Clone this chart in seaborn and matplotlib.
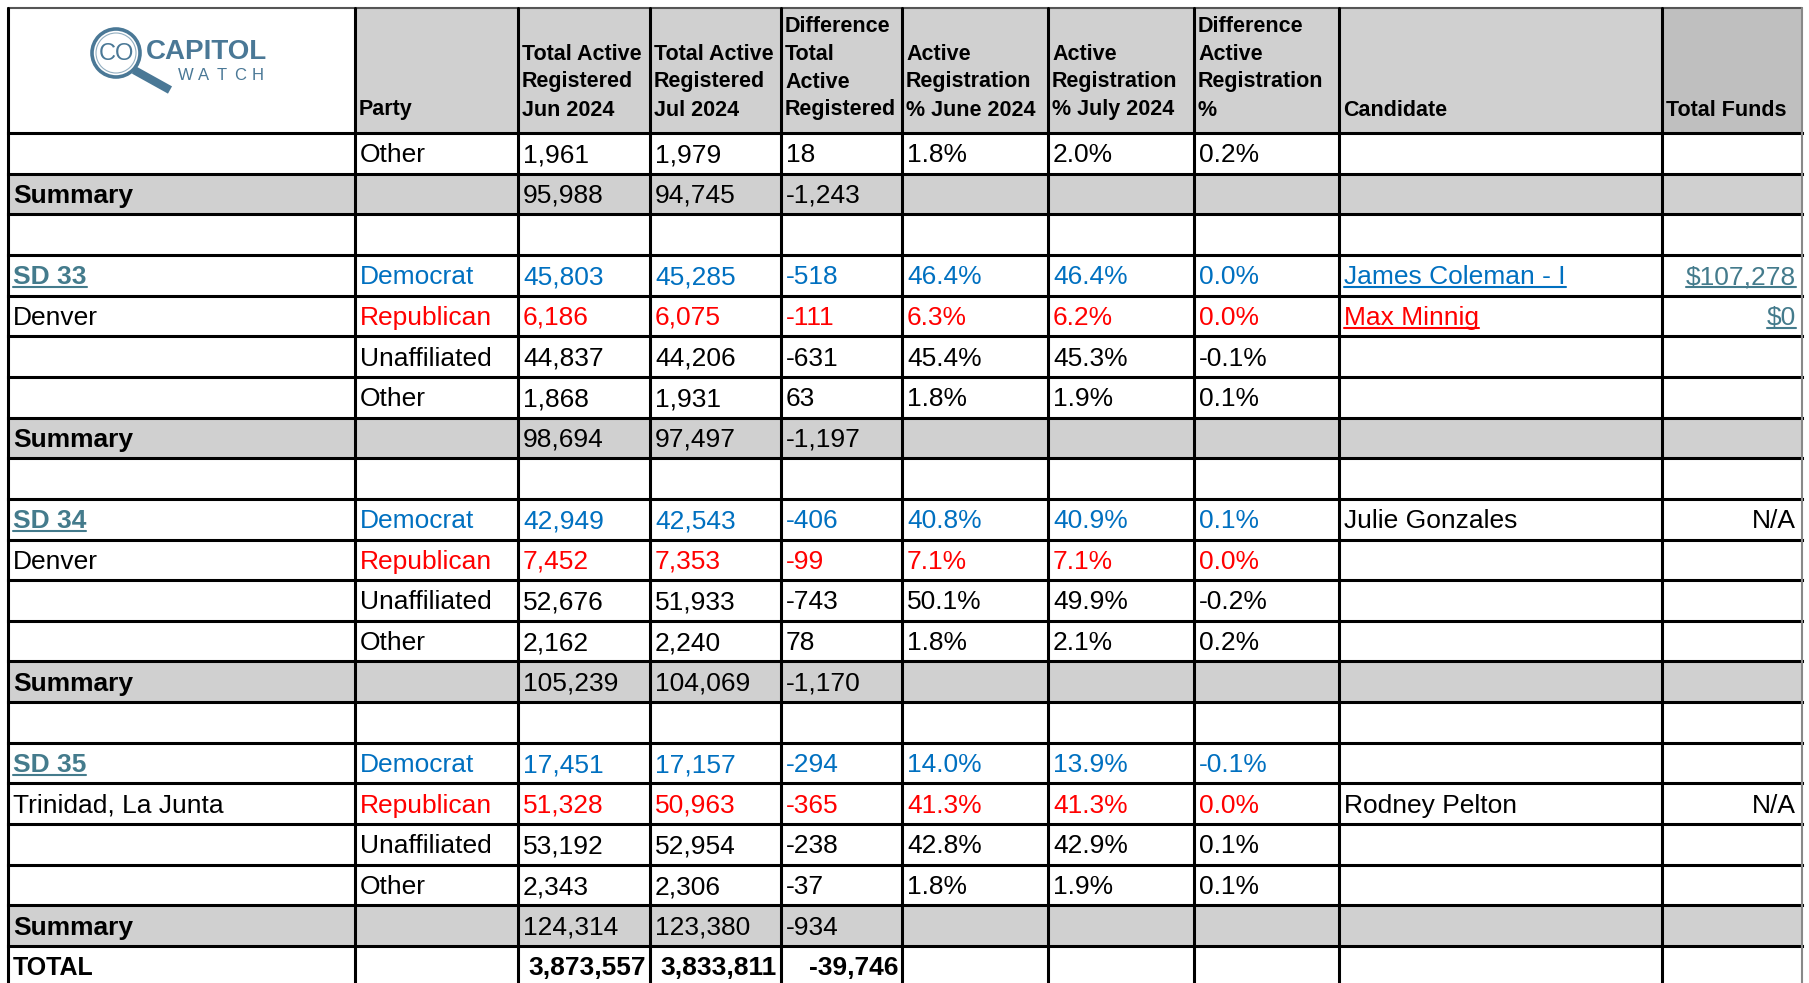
import numpy as np
import matplotlib
matplotlib.use("Agg")
import matplotlib.pyplot as plt
from matplotlib.patches import Rectangle, Circle
import seaborn as sns

# ---- table data ----
DISTRICTS = ["", "SD 33", "SD 34", "SD 35"]
LOCATIONS = ["", "Denver", "Denver", "Trinidad, La Junta"]
PARTIES = ["Democrat", "Republican", "Unaffiliated", "Other"]
BLOCK_PARTIES = [["Other"], PARTIES, PARTIES, PARTIES]

JUN_2024 = [[1961], [45803, 6186, 44837, 1868], [42949, 7452, 52676, 2162], [17451, 51328, 53192, 2343]]
JUL_2024 = [[1979], [45285, 6075, 44206, 1931], [42543, 7353, 51933, 2240], [17157, 50963, 52954, 2306]]
DIFF_TOTAL = [[18], [-518, -111, -631, 63], [-406, -99, -743, 78], [-294, -365, -238, -37]]
PCT_JUN = [[1.8], [46.4, 6.3, 45.4, 1.8], [40.8, 7.1, 50.1, 1.8], [14.0, 41.3, 42.8, 1.8]]
PCT_JUL = [[2.0], [46.4, 6.2, 45.3, 1.9], [40.9, 7.1, 49.9, 2.1], [13.9, 41.3, 42.9, 1.9]]
PCT_DIFF = [[0.2], [0.0, 0.0, -0.1, 0.1], [0.1, 0.0, -0.2, 0.2], [-0.1, 0.0, 0.1, 0.1]]

SUM_JUN = [95988, 98694, 105239, 124314]
SUM_JUL = [94745, 97497, 104069, 123380]
SUM_DIFF = [-1243, -1197, -1170, -934]

CANDIDATES = [[""], ["James Coleman - I", "Max Minnig", "", ""], ["Julie Gonzales", "", "", ""], ["", "Rodney Pelton", "", ""]]
CAND_LINKED = [[False], [True, True, False, False], [False] * 4, [False] * 4]
FUNDS = [[""], ["$107,278", "$0", "", ""], ["N/A", "", "", ""], ["", "N/A", "", ""]]

TOTAL_ROW = [3873557, 3833811, -39746]

HEADERS = [[], ["Party"], ["Total Active", "Registered", "Jun 2024"],
           ["Total Active", "Registered", "Jul 2024"],
           ["Difference", "Total", "Active", "Registered"],
           ["Active", "Registration", "% June 2024"],
           ["Active", "Registration", "% July 2024"],
           ["Difference", "Active", "Registration", "%"],
           ["Candidate"], ["Total Funds"]]

# ---- layout (pixels) ----
W, H = 1809, 983
COL_EDGES = [8, 355, 518, 650, 781, 902, 1048, 1194, 1339, 1662, 1802]
TOP, HEAD_BOT, ROW_H = 8, 133, 40.65
PAD = 5
FS, FS_HEAD = 19, 15.5

BLUE, RED, LINK, BLACK = "#0070C0", "#FF0000", "#447B8C", "black"
GRAY, GRAY_DARK = "#D0D0D0", "#BFBFBF"
LOGO = "#4A7896"
PARTY_COLOR = {"Democrat": BLUE, "Republican": RED}

sns.set_theme(style="white")
plt.rcParams["font.family"] = ["Liberation Sans", "DejaVu Sans"]
plt.rcParams["text.color"] = "black"

fig = plt.figure(figsize=(W / 100, H / 100), dpi=100)
ax = fig.add_axes([0, 0, 1, 1])
ax.set_xlim(0, W)
ax.set_ylim(H, 0)
ax.axis("off")

# build the row list: each row is (kind, cells)
rows = []
for b in range(len(BLOCK_PARTIES)):
    for i, party in enumerate(BLOCK_PARTIES[b]):
        color = PARTY_COLOR.get(party, BLACK)
        left = ""
        if b > 0 and i == 0:
            left = ("district", DISTRICTS[b])
        elif b > 0 and i == 1:
            left = ("plain", LOCATIONS[b])
        cells = {
            0: left,
            1: (party, color),
            2: (f"{JUN_2024[b][i]:,}", color),
            3: (f"{JUL_2024[b][i]:,}", color),
            4: (f"{DIFF_TOTAL[b][i]:,}", color),
            5: (f"{PCT_JUN[b][i]:.1f}%", color),
            6: (f"{PCT_JUL[b][i]:.1f}%", color),
            7: (f"{PCT_DIFF[b][i]:.1f}%", color),
            8: (CANDIDATES[b][i], color if CAND_LINKED[b][i] else BLACK, CAND_LINKED[b][i]),
            9: (FUNDS[b][i], LINK if FUNDS[b][i].startswith("$") else BLACK, FUNDS[b][i].startswith("$")),
        }
        rows.append(("data", cells))
    rows.append(("summary", [f"{SUM_JUN[b]:,}", f"{SUM_JUL[b]:,}", f"{SUM_DIFF[b]:,}"]))
    if b < len(BLOCK_PARTIES) - 1:
        rows.append(("blank", None))
rows.append(("total", [f"{v:,}" for v in TOTAL_ROW]))

x0, x1 = COL_EDGES[0], COL_EDGES[-1]
underlines = []

# header fills
for c in range(1, len(COL_EDGES) - 1):
    fc = GRAY_DARK if c == len(COL_EDGES) - 2 else GRAY
    ax.add_patch(Rectangle((COL_EDGES[c], TOP), COL_EDGES[c + 1] - COL_EDGES[c], HEAD_BOT - TOP,
                           facecolor=fc, edgecolor="none", zorder=0))
for c, lines in enumerate(HEADERS):
    n = len(lines)
    for k, line in enumerate(lines):
        y = HEAD_BOT - 23 - (n - 1 - k) * 28
        ax.text(COL_EDGES[c] + 4, y, line, fontsize=FS_HEAD, fontweight="bold",
                ha="left", va="center", color=BLACK)

# logo
cx, cy = 116, 53
ax.add_patch(Circle((cx, cy), 24, fill=False, edgecolor=LOGO, lw=2.6, zorder=3))
ax.add_patch(Circle((cx, cy), 20, fill=False, edgecolor=LOGO, lw=0.8, alpha=0.6, zorder=3))
ax.plot([cx + 18, cx + 54], [cy + 17, cy + 37], color=LOGO, lw=6, solid_capstyle="butt", zorder=3)
ax.text(cx, cy + 1, "CO", fontsize=17, color=LOGO, ha="center", va="center", zorder=4)
ax.text(146, cy - 1, "CAPITOL", fontsize=20, fontweight="bold", color=LOGO,
        ha="left", va="center", zorder=4)
for k, ch in enumerate("WATCH"):
    ax.text(186 + k * 18, 76, ch, fontsize=12, color=LOGO, ha="center", va="center", zorder=4)

# body rows
for r, (kind, cells) in enumerate(rows):
    y_top = HEAD_BOT + r * ROW_H
    yb = y_top + ROW_H / 2 + 9  # text baseline
    if kind == "summary":
        ax.add_patch(Rectangle((x0, y_top), x1 - x0, ROW_H, facecolor=GRAY, edgecolor="none", zorder=0))
        ax.text(x0 + PAD, yb, "Summary", fontsize=FS, fontweight="bold", va="baseline", ha="left")
        for j, s in enumerate(cells):
            ax.text(COL_EDGES[2 + j] + PAD, yb, s, fontsize=FS, va="baseline", ha="left")
    elif kind == "total":
        ax.text(x0 + PAD, yb, "TOTAL", fontsize=FS - 1, fontweight="bold", va="baseline", ha="left")
        for j, s in enumerate(cells):
            ax.text(COL_EDGES[3 + j] - 4, yb, s, fontsize=FS, fontweight="bold", va="baseline", ha="right")
    elif kind == "data":
        left = cells[0]
        if left:
            style, label = left
            if style == "district":
                t = ax.text(x0 + PAD, yb, label, fontsize=FS, fontweight="bold", color=LINK,
                            va="baseline", ha="left")
                underlines.append((t, yb, LINK))
            else:
                ax.text(x0 + PAD, yb, label, fontsize=FS, va="baseline", ha="left")
        for c in range(1, 8):
            s, col = cells[c]
            ax.text(COL_EDGES[c] + PAD, yb, s, fontsize=FS, color=col, va="baseline", ha="left")
        s, col, link = cells[8]
        if s:
            t = ax.text(COL_EDGES[8] + PAD, yb, s, fontsize=FS, color=col, va="baseline", ha="left")
            if link:
                underlines.append((t, yb, col))
        s, col, link = cells[9]
        if s:
            t = ax.text(COL_EDGES[10] - PAD - 1, yb, s, fontsize=FS, color=col, va="baseline", ha="right")
            if link:
                underlines.append((t, yb, col))

# grid lines
n_rows = len(rows)
for r in range(n_rows + 1):
    y = HEAD_BOT + r * ROW_H
    if y < H:
        ax.plot([x0, x1], [y, y], color=BLACK, lw=2.2, zorder=5, solid_capstyle="projecting")
ax.plot([x0, x1], [TOP, TOP], color="#555555", lw=1.5, zorder=5)
for c, x in enumerate(COL_EDGES):
    col = "#888888" if c == len(COL_EDGES) - 1 else BLACK
    ax.plot([x, x], [TOP, H], color=col, lw=2.2 if c < len(COL_EDGES) - 1 else 1.5, zorder=5)

# underline the linked cells
fig.canvas.draw()
renderer = fig.canvas.get_renderer()
inv = ax.transData.inverted()
for t, yb, col in underlines:
    bb = t.get_window_extent(renderer)
    (xa, _), (xb, _) = inv.transform([[bb.x0, bb.y0], [bb.x1, bb.y1]])
    ax.plot([xa, xb], [yb + 3, yb + 3], color=col, lw=1.5, zorder=4)

fig.savefig("out.png", dpi=100)
